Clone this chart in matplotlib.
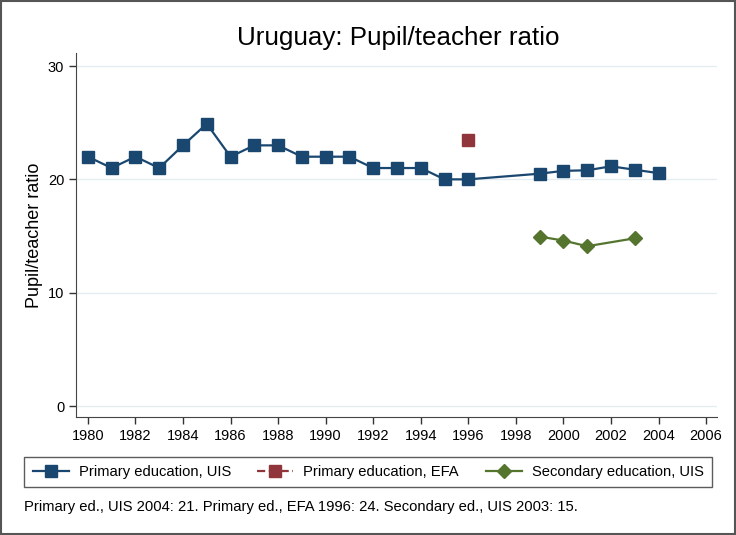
import numpy as np
import matplotlib.pyplot as plt
from matplotlib.patches import Rectangle

plt.rcParams['font.family'] = ['Liberation Sans', 'DejaVu Sans']

# Data
years_uis = [1980, 1981, 1982, 1983, 1984, 1985, 1986, 1987, 1988, 1989, 1990,
             1991, 1992, 1993, 1994, 1995, 1996, 1999, 2000, 2001, 2002, 2003, 2004]
primary_uis = [22, 21, 22, 21, 23, 24.9, 22, 23, 23, 22, 22,
               22, 21, 21, 21, 20, 20, 20.5, 20.75, 20.8, 21.15, 20.85, 20.55]
years_efa = [1996]
primary_efa = [23.5]
years_sec = [1999, 2000, 2001, 2003]
secondary_uis = [14.95, 14.6, 14.1, 14.8]
xticks = list(range(1980, 2007, 2))
yticks = [0, 10, 20, 30]

navy = '#1a476f'
maroon = '#90353b'
green = '#55752f'

fig = plt.figure(figsize=(7.36, 5.35), dpi=100)
ax = fig.add_axes([76 / 736, 1 - 417 / 535, (717 - 76) / 736, (417 - 53) / 535])

ax.plot(years_uis, primary_uis, color=navy, marker='s', markersize=8, lw=1.6,
        label='Primary education, UIS')
ax.plot(years_efa, primary_efa, color=maroon, marker='s', markersize=8, lw=1.6,
        ls='--', label='Primary education, EFA')
ax.plot(years_sec, secondary_uis, color=green, marker='D', markersize=7.5, lw=1.6,
        label='Secondary education, UIS')

ax.set_xlim(1979.5, 2006.46)
ax.set_ylim(-0.97, 31.15)
ax.set_xticks(xticks)
ax.set_yticks(yticks)
ax.tick_params(labelsize=10.5, length=5, width=1, color='#333333')
ax.grid(axis='y', color='#e4eef0', lw=1)
ax.set_axisbelow(True)
for s in ['top', 'right']:
    ax.spines[s].set_visible(False)
for s in ['left', 'bottom']:
    ax.spines[s].set_color('#444444')

ax.set_ylabel('Pupil/teacher ratio', fontsize=13)
ax.yaxis.set_label_coords(-0.052, 0.5)
fig.text(398 / 736, 1 - 38 / 535, 'Uruguay: Pupil/teacher ratio', fontsize=18.7,
         ha='center', va='center')

leg = fig.legend(loc='center', bbox_to_anchor=(368 / 736, 1 - 472 / 535), ncol=3,
                 fontsize=10.6, frameon=True, fancybox=False, edgecolor='#333333',
                 columnspacing=1.8, handlelength=2.45, handletextpad=0.68,
                 borderpad=0.55)
leg.get_frame().set_linewidth(1)

fig.text(24 / 736, 1 - 507 / 535,
         'Primary ed., UIS 2004: 21. Primary ed., EFA 1996: 24. Secondary ed., UIS 2003: 15.',
         fontsize=10.6, ha='left', va='center')

fig.patches.append(Rectangle((0.002, 0.002), 0.996, 0.996, transform=fig.transFigure,
                             fill=False, edgecolor='#555555', lw=1.5))

fig.savefig('out.png', dpi=100)
